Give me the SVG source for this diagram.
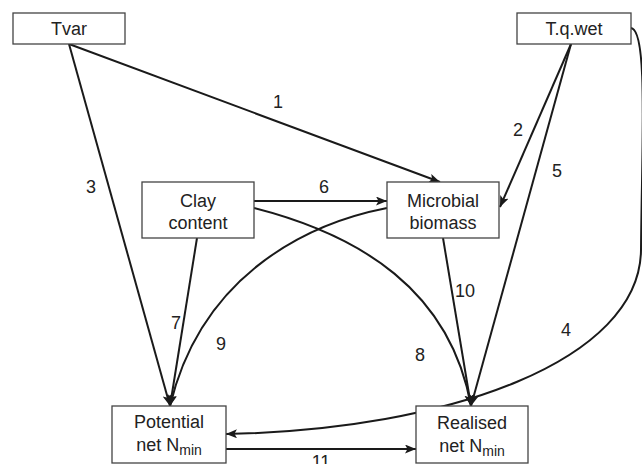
<svg xmlns="http://www.w3.org/2000/svg" width="642" height="464" viewBox="0 0 642 464">
<defs>
<marker id="ah" markerUnits="userSpaceOnUse" markerWidth="12" markerHeight="10" refX="11" refY="4.5" orient="auto">
<path d="M0,0 L11,4.5 L0,9 L2.5,4.5 z" fill="#1a1a1a"/>
</marker>
<style>
.box{fill:#fff;stroke:#444;stroke-width:1.3}
.t{font-family:"Liberation Sans",Arial,sans-serif;font-size:18px;fill:#222;text-anchor:middle}
.sub{font-size:14px}
.e{fill:none;stroke:#1a1a1a;stroke-width:2;marker-end:url(#ah)}
</style>
</defs>
<rect width="642" height="464" fill="#fff"/>
<g id="connectors">
<path class="e" d="M69,44 L440,182"/>
<path class="e" d="M571,44 L500,207"/>
<path class="e" d="M69,44 L170,406"/>
<path class="e" d="M631,28 C648,30 642,140 641,250 C640,360 450,430 226,434"/>
<path class="e" d="M571,44 L471,406"/>
<path class="e" d="M254,201 L387,201"/>
<path class="e" d="M197,238 L170,406"/>
<path class="e" d="M254,208 C360,235 450,290 471,406"/>
<path class="e" d="M387,208 C300,225 200,280 170,406"/>
<path class="e" d="M443,238 L471,406"/>
<path class="e" d="M226,449 L416,449"/>
</g>
<g id="labels">
<text class="t" x="278" y="108">1</text>
<text class="t" x="518" y="136">2</text>
<text class="t" x="91" y="193">3</text>
<text class="t" x="566" y="336">4</text>
<text class="t" x="557" y="177">5</text>
<text class="t" x="324" y="193">6</text>
<text class="t" x="176" y="329">7</text>
<text class="t" x="420" y="361">8</text>
<text class="t" x="221" y="350">9</text>
<text class="t" x="465" y="297">10</text>
<text class="t" x="321" y="468">11</text>
</g>
<g id="tvar">
<rect class="box" x="13" y="13" width="112" height="31"/>
<text class="t" x="69" y="35">Tvar</text>
</g>
<g id="tqwet">
<rect class="box" x="517" y="13" width="114" height="31"/>
<text class="t" x="574" y="35">T.q.wet</text>
</g>
<g id="clay">
<rect class="box" x="142" y="182" width="112" height="56"/>
<text class="t" x="198" y="207">Clay</text>
<text class="t" x="198" y="229">content</text>
</g>
<g id="microbial">
<rect class="box" x="387" y="182" width="112" height="56"/>
<text class="t" x="443" y="207">Microbial</text>
<text class="t" x="443" y="229">biomass</text>
</g>
<g id="potential">
<rect class="box" x="112" y="406" width="114" height="57"/>
<text class="t" x="169" y="428">Potential</text>
<text class="t" x="169" y="451">net N<tspan class="sub" dy="4">min</tspan></text>
</g>
<g id="realised">
<rect class="box" x="416" y="406" width="112" height="57"/>
<text class="t" x="472" y="429">Realised</text>
<text class="t" x="472" y="452">net N<tspan class="sub" dy="4">min</tspan></text>
</g>
</svg>
